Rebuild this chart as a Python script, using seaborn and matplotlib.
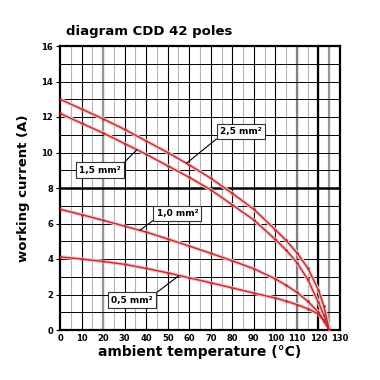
import matplotlib
matplotlib.use("Agg")
import matplotlib.pyplot as plt
import seaborn as sns
import pandas as pd

# ---- data ----
temps = [0, 10, 20, 30, 40, 50, 60, 70, 80, 90, 100, 105, 110, 115, 120, 122.5, 125]
cur_25 = [13.0, 12.45, 11.9, 11.3, 10.65, 10.0, 9.3, 8.55, 7.7, 6.8, 5.65, 5.05, 4.35, 3.5, 2.25, 1.35, 0.0]
cur_15 = [12.2, 11.65, 11.1, 10.5, 9.9, 9.25, 8.6, 7.9, 7.05, 6.2, 5.1, 4.5, 3.8, 2.85, 1.55, 0.85, 0.0]
cur_10 = [6.8, 6.5, 6.18, 5.85, 5.52, 5.13, 4.73, 4.32, 3.9, 3.45, 2.88, 2.52, 2.12, 1.62, 1.0, 0.55, 0.0]
cur_05 = [4.12, 4.0, 3.86, 3.7, 3.47, 3.22, 2.94, 2.66, 2.37, 2.08, 1.8, 1.63, 1.43, 1.2, 0.9, 0.5, 0.0]
sections = ["2,5 mm²", "1,5 mm²", "1,0 mm²", "0,5 mm²"]
x_ticks = list(range(0, 131, 10))
y_ticks = list(range(0, 17, 2))

title = "diagram CDD 42 poles"
xlabel = "ambient temperature (°C)"
ylabel = "working current (A)"

rows = []
for name, vals in zip(sections, [cur_25, cur_15, cur_10, cur_05]):
    for t, v in zip(temps, vals):
        rows.append({"temp": t, "current": v, "section": name})
df = pd.DataFrame(rows)

sns.set_style("white")
plt.rcParams["font.family"] = ["DejaVu Sans"]
plt.rcParams["text.color"] = "black"
plt.rcParams["axes.labelcolor"] = "black"
plt.rcParams["xtick.color"] = "black"
plt.rcParams["ytick.color"] = "black"

fig = plt.figure(figsize=(3.8, 3.8), dpi=100)
ax = fig.add_axes([60 / 380, 1 - 330 / 380, 280 / 380, 284 / 380])

ax.set_xlim(0, 130)
ax.set_ylim(0, 16)

# grid
for x in range(5, 130, 5):
    if x % 10 == 0:
        ax.axvline(x, color="black", lw=0.8, zorder=1)
    else:
        ax.axvline(x, color="#b4b4b4", lw=0.8, zorder=1)
for x, c in [(20, "#959595"), (110, "#808080"), (120, "black"), (125, "#959595")]:
    ax.axvline(x, color=c, lw=1.6, zorder=1)
for y in range(1, 16):
    ax.axhline(y, color="black", lw=0.7, zorder=1)
ax.axhline(8, color="black", lw=1.8, zorder=1)

halo_pal = {s: "#f6c4c4" for s in sections}
sns.lineplot(data=df, x="temp", y="current", hue="section", palette=halo_pal,
             lw=2.6, legend=False, ax=ax, zorder=2, sort=False)
line_pal = {s: "#c32b33" for s in sections}
sns.lineplot(data=df, x="temp", y="current", hue="section", palette=line_pal,
             lw=1.0, legend=False, ax=ax, zorder=3, sort=False,
             marker="o", markersize=2, markeredgewidth=0)

for sp in ax.spines.values():
    sp.set_color("black")
    sp.set_linewidth(1.6)
    sp.set_visible(True)

ax.set_xticks(x_ticks)
ax.set_yticks(y_ticks)
ax.set_xticklabels([str(v) for v in x_ticks], fontsize=6, fontweight="bold")
ax.set_yticklabels([str(v) for v in y_ticks], fontsize=6, fontweight="bold")
ax.tick_params(axis="y", length=3, width=0.8, direction="out", left=True, pad=2)
ax.tick_params(axis="x", length=0, pad=3)

ax.set_xlabel(xlabel, fontsize=10, fontweight="bold", labelpad=1)
ax.set_ylabel(ylabel, fontsize=9.5, fontweight="bold", labelpad=8)
fig.text(66 / 380, 1 - 31 / 380, title, fontsize=9.5, fontweight="bold",
         ha="left", va="center")

boxes = [
    ("2,5 mm²", (58.8, 9.4), (84, 11.18), (0, 0)),
    ("1,5 mm²", (35.6, 10.15), (18.7, 9.01), (1, 1)),
    ("1,0 mm²", (37.1, 5.62), (54.5, 6.57), (0, 0)),
    ("0,5 mm²", (55.2, 3.06), (33.4, 1.69), (1, 1)),
]
for label, xy, xyt, rp in boxes:
    ax.annotate(label, xy=xy, xytext=xyt, ha="center", va="center",
                fontsize=6.5, fontweight="bold", zorder=5,
                bbox=dict(boxstyle="square,pad=0.35", fc="white", ec="#333333", lw=0.8),
                arrowprops=dict(arrowstyle="-", color="black", lw=0.8,
                                shrinkA=0, shrinkB=0, relpos=rp))

fig.savefig("out.png", dpi=100, facecolor="white")
